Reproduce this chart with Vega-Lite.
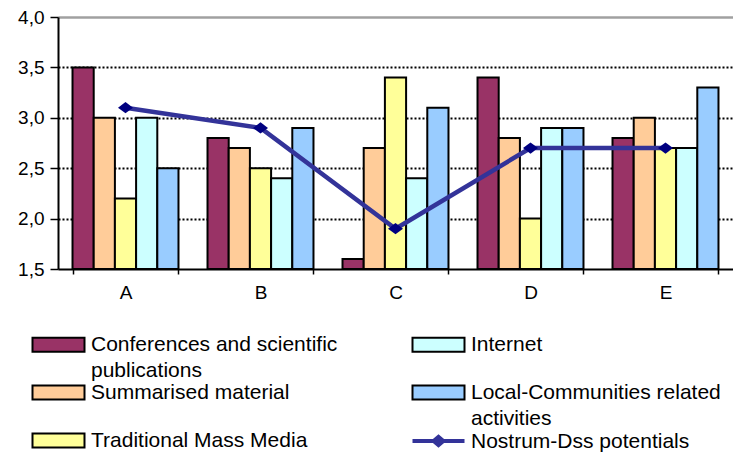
{
  "$schema": "https://vega.github.io/schema/vega-lite/v6.json",
  "width": 675,
  "height": 252,
  "autosize": {"type": "none"},
  "padding": {"left": 58, "top": 17, "right": 0, "bottom": 188},
  "background": "white",
  "data": {
    "values": [
      {"cat": "A", "series": "Conferences and scientific publications", "value": 3.5},
      {"cat": "A", "series": "Summarised material", "value": 3.0},
      {"cat": "A", "series": "Traditional Mass Media", "value": 2.2},
      {"cat": "A", "series": "Internet", "value": 3.0},
      {"cat": "A", "series": "Local-Communities related activities", "value": 2.5},
      {"cat": "A", "series": "Nostrum-Dss potentials", "value": 3.1},
      {"cat": "B", "series": "Conferences and scientific publications", "value": 2.8},
      {"cat": "B", "series": "Summarised material", "value": 2.7},
      {"cat": "B", "series": "Traditional Mass Media", "value": 2.5},
      {"cat": "B", "series": "Internet", "value": 2.4},
      {"cat": "B", "series": "Local-Communities related activities", "value": 2.9},
      {"cat": "B", "series": "Nostrum-Dss potentials", "value": 2.9},
      {"cat": "C", "series": "Conferences and scientific publications", "value": 1.6},
      {"cat": "C", "series": "Summarised material", "value": 2.7},
      {"cat": "C", "series": "Traditional Mass Media", "value": 3.4},
      {"cat": "C", "series": "Internet", "value": 2.4},
      {"cat": "C", "series": "Local-Communities related activities", "value": 3.1},
      {"cat": "C", "series": "Nostrum-Dss potentials", "value": 1.9},
      {"cat": "D", "series": "Conferences and scientific publications", "value": 3.4},
      {"cat": "D", "series": "Summarised material", "value": 2.8},
      {"cat": "D", "series": "Traditional Mass Media", "value": 2.0},
      {"cat": "D", "series": "Internet", "value": 2.9},
      {"cat": "D", "series": "Local-Communities related activities", "value": 2.9},
      {"cat": "D", "series": "Nostrum-Dss potentials", "value": 2.7},
      {"cat": "E", "series": "Conferences and scientific publications", "value": 2.8},
      {"cat": "E", "series": "Summarised material", "value": 3.0},
      {"cat": "E", "series": "Traditional Mass Media", "value": 2.7},
      {"cat": "E", "series": "Internet", "value": 2.7},
      {"cat": "E", "series": "Local-Communities related activities", "value": 3.3},
      {"cat": "E", "series": "Nostrum-Dss potentials", "value": 2.7}
    ]
  },
  "layer": [
    {
      "transform": [{"filter": "datum.series != 'Nostrum-Dss potentials'"}],
      "mark": {"type": "bar", "stroke": "black", "strokeWidth": 2},
      "encoding": {
        "x": {
          "field": "cat", "type": "nominal",
          "scale": {"paddingInner": 0.215, "paddingOuter": 0.1075},
          "axis": {
            "title": null, "labelAngle": 0, "tickBand": "extent", "tickSize": 5,
            "tickColor": "black", "tickWidth": 1.5, "domainColor": "black", "domainWidth": 2,
            "labelPadding": 9, "labelFontSize": 19, "labelFont": "Liberation Sans", "labelColor": "black"
          }
        },
        "xOffset": {
          "field": "series", "type": "nominal",
          "scale": {"domain": ["Conferences and scientific publications", "Summarised material", "Traditional Mass Media", "Internet", "Local-Communities related activities"], "paddingInner": 0, "paddingOuter": 0}
        },
        "y": {
          "field": "value", "type": "quantitative",
          "scale": {"domain": [1.5, 4.0], "zero": false, "nice": false},
          "axis": {
            "title": null, "values": [1.5, 2.0, 2.5, 3.0, 3.5, 4.0],
            "labelExpr": "replace(format(datum.value, '.1f'), '.', ',')",
            "labelFontSize": 19, "labelFont": "Liberation Sans", "labelColor": "black", "labelPadding": 6,
            "tickSize": 8, "tickColor": "black", "tickWidth": 1.5,
            "domainColor": "black", "domainWidth": 2,
            "grid": true,
            "gridColor": {"condition": {"test": "datum.value == 4", "value": "#a0a0a0"}, "value": "black"},
            "gridOpacity": {"condition": {"test": "datum.value == 1.5", "value": 0}, "value": 1},
            "gridDash": {"condition": {"test": "datum.value == 4", "value": []}, "value": [2, 2]},
            "gridWidth": {"condition": {"test": "datum.value == 4", "value": 2.5}, "value": 1.8}
          }
        },
        "y2": {"datum": 1.5},
        "fill": {
          "field": "series", "type": "nominal",
          "scale": {
            "domain": ["Conferences and scientific publications", "Summarised material", "Traditional Mass Media", "Internet", "Local-Communities related activities"],
            "range": ["#993366", "#FFCC99", "#FFFF99", "#CCFFFF", "#99CCFF"]
          },
          "legend": {
            "orient": "none", "legendX": -26, "legendY": 317, "columns": 2,
            "columnPadding": 70, "rowPadding": 0, "padding": 0, "title": null,
            "labelFont": "Liberation Sans", "labelFontSize": 21, "labelColor": "black", "labelLimit": 500,
            "labelBaseline": "top",
            "labelExpr": "datum.label == 'Conferences and scientific publications' ? ['Conferences and scientific', 'publications'] : datum.label == 'Local-Communities related activities' ? ['Local-Communities related', 'activities'] : [datum.label, ' ']",
            "symbolType": "M-4,-1.08H4V1.08H-4Z",
            "symbolSize": 169, "symbolOffset": 16, "labelOffset": 22,
            "symbolStrokeWidth": 2, "symbolStrokeColor": "black",
            "encoding": {
              "labels": {"dy": {"value": -10.5}, "lineHeight": {"value": 25.5}},
              "symbols": {
                "stroke": {"value": "black"},
                "strokeWidth": {"value": 2},
                "opacity": {"value": 1},
                "fillOpacity": {"value": 1}
              }
            }
          }
        }
      }
    },
    {
      "transform": [{"filter": "datum.series == 'Nostrum-Dss potentials'"}],
      "mark": {"type": "line", "strokeWidth": 4.5},
      "encoding": {
        "x": {"field": "cat", "type": "nominal"},
        "y": {"field": "value", "type": "quantitative"},
        "stroke": {
          "field": "series", "type": "nominal",
          "scale": {"domain": ["Nostrum-Dss potentials"], "range": ["#333399"]},
          "legend": {
            "orient": "none", "legendX": 354, "legendY": 413.5, "padding": 0, "title": null,
            "labelFont": "Liberation Sans", "labelFontSize": 21, "labelColor": "black", "labelLimit": 500,
            "labelBaseline": "top",
            "symbolType": "M-4,0H4 M-0.75,0L0,-0.65L0.75,0L0,0.65Z",
            "symbolSize": 169, "symbolOffset": 16, "labelOffset": 22,
            "symbolStrokeWidth": 4, "symbolFillColor": "#000080",
            "encoding": {
              "labels": {"dy": {"value": -10.5}},
              "symbols": {
                "fill": {"value": "#000080"},
                "strokeWidth": {"value": 4},
                "opacity": {"value": 1},
                "fillOpacity": {"value": 1}
              }
            }
          }
        }
      }
    },
    {
      "transform": [{"filter": "datum.series == 'Nostrum-Dss potentials'"}],
      "mark": {"type": "point", "shape": "M-1,0L0,-0.75L1,0L0,0.75Z", "size": 225, "filled": true, "color": "#000080", "opacity": 1},
      "encoding": {
        "x": {"field": "cat", "type": "nominal"},
        "y": {"field": "value", "type": "quantitative"}
      }
    }
  ],
  "config": {
    "view": {"stroke": null},
    "font": "Liberation Sans"
  }
}
